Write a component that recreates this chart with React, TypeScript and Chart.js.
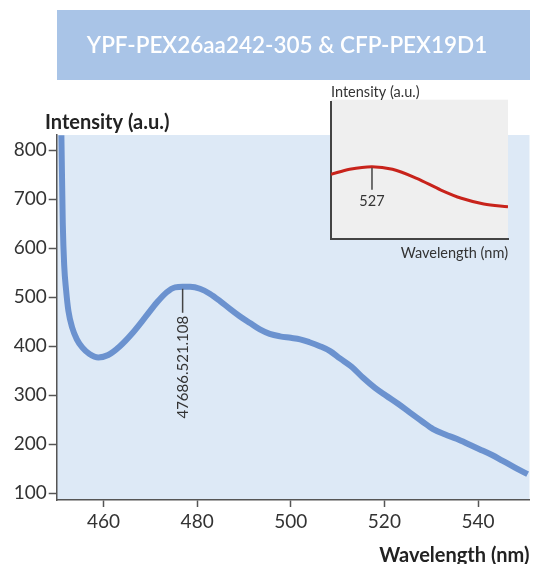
import React, { useEffect, useRef } from "react";
import { Chart, registerables } from "chart.js";

Chart.register(...registerables);

const titleText = "YPF-PEX26aa242-305 & CFP-PEX19D1";
const yAxisTitle = "Intensity (a.u.)";
const xAxisTitle = "Wavelength (nm)";

const wavelength = [
  451.0, 451.3, 451.6, 452.0, 452.5, 453.3, 454.3, 455.5, 457.0, 458.9,
  461.0, 463.5, 466.3, 469.0, 471.4, 473.5, 475.3, 476.9, 478.5, 480.6,
  482.7, 484.9, 487.0, 489.1, 491.3, 493.4, 495.5, 497.7, 500.0, 502.0,
  504.0, 506.2, 508.4, 510.5, 513.0, 515.4, 518.0, 520.4, 523.0, 525.4,
  528.0, 530.4, 533.0, 535.4, 538.0, 540.3, 543.0, 545.3, 548.0, 550.6,
];
const intensity = [
  830, 650, 565, 515, 472, 438, 414, 397, 384, 377,
  382, 400, 428, 460, 489, 510, 520, 521.1, 521, 517,
  507, 492, 476, 461, 447, 434, 425, 420, 417, 414,
  408, 400, 390, 375, 358, 336, 315, 299, 282, 265,
  247, 231, 220, 211, 200, 190, 178, 166, 152, 139,
];
const xTicks = [460, 480, 500, 520, 540];
const yTicks = [100, 200, 300, 400, 500, 600, 700, 800];

const peakWavelength = 476.9;
const peakIntensity = 521.1;
const peakLabel = "47686.521.108";

const insetWavelength = [505, 515, 527, 538, 551, 564, 575, 587, 600];
const insetIntensity = [47.2, 50.9, 52.8, 50.9, 44.3, 35.8, 29.8, 25.7, 23.7];
const insetPeakWavelength = 527;
const insetPeakLabel = "527";

const FONT = "Lato, 'Open Sans', sans-serif";

export default function App() {
  const mainRef = useRef<HTMLCanvasElement | null>(null);
  const insetRef = useRef<HTMLCanvasElement | null>(null);

  useEffect(() => {
    if (!mainRef.current || !insetRef.current) return;

    const decor = {
      id: "decor",
      beforeDraw(chart: any) {
        const { ctx, chartArea } = chart;
        ctx.save();
        ctx.fillStyle = "#a9c4e7";
        ctx.fillRect(57, 10, 473, 70);
        ctx.fillStyle = "#dde9f6";
        ctx.fillRect(chartArea.left, chartArea.top, chartArea.right - chartArea.left, chartArea.bottom - chartArea.top);
        ctx.fillStyle = "#ffffff";
        ctx.font = `600 22.5px ${FONT}`;
        ctx.textAlign = "center";
        ctx.textBaseline = "middle";
        ctx.fillText(titleText, 287, 46);
        ctx.fillStyle = "#222222";
        ctx.font = `bold 20px ${FONT}`;
        ctx.textAlign = "left";
        ctx.fillText(yAxisTitle, 45, 123);
        ctx.restore();
      },
      afterDatasetsDraw(chart: any) {
        const { ctx, scales } = chart;
        const x = scales.x.getPixelForValue(peakWavelength);
        const y0 = scales.y.getPixelForValue(peakIntensity);
        ctx.save();
        ctx.strokeStyle = "#444444";
        ctx.lineWidth = 1.5;
        ctx.beginPath();
        ctx.moveTo(x, y0 + 2);
        ctx.lineTo(x, y0 + 26);
        ctx.stroke();
        ctx.translate(x + 1, y0 + 29);
        ctx.rotate(-Math.PI / 2);
        ctx.fillStyle = "#333333";
        ctx.font = `15px ${FONT}`;
        ctx.textAlign = "right";
        ctx.textBaseline = "middle";
        ctx.fillText(peakLabel, 0, 0);
        ctx.restore();
      },
    };

    const main = new Chart(mainRef.current, {
      type: "line",
      data: {
        datasets: [
          {
            data: wavelength.map((w, i) => ({ x: w, y: intensity[i] })),
            borderColor: "#6b92cf",
            borderWidth: 6,
            pointRadius: 0,
            cubicInterpolationMode: "monotone",
            fill: false,
          },
        ],
      },
      options: {
        animation: false,
        responsive: false,
        layout: { padding: { left: 0, right: 4.5, top: 135, bottom: 0 } },
        plugins: { legend: { display: false }, tooltip: { enabled: false }, title: { display: false } },
        scales: {
          x: {
            type: "linear",
            min: 450,
            max: 551,
            afterBuildTicks: (s: any) => {
              s.ticks = xTicks.map((v) => ({ value: v }));
            },
            afterFit: (s: any) => {
              s.height = 64;
            },
            grid: { drawOnChartArea: false, drawTicks: true, tickLength: 7, tickColor: "#555555", tickWidth: 1.5 },
            border: { color: "#555555", width: 1.5 },
            ticks: { color: "#333333", font: { family: FONT, size: 19 }, padding: 3, maxRotation: 0 },
            title: {
              display: true,
              text: xAxisTitle,
              align: "end",
              color: "#222222",
              font: { family: FONT, size: 20, weight: "bold", lineHeight: 0.85 },
              padding: { top: 0, bottom: 0 },
            },
          },
          y: {
            type: "linear",
            min: 86.3,
            max: 830.6,
            afterBuildTicks: (s: any) => {
              s.ticks = yTicks.map((v) => ({ value: v }));
            },
            afterFit: (s: any) => {
              s.width = 56.7;
            },
            grid: { drawOnChartArea: false, drawTicks: true, tickLength: 8, tickColor: "#555555", tickWidth: 1.5 },
            border: { color: "#555555", width: 1.5 },
            ticks: { color: "#333333", font: { family: FONT, size: 19 }, padding: 2 },
          },
        },
      },
      plugins: [decor],
    } as any);

    const insetDecor = {
      id: "insetDecor",
      beforeDraw(chart: any) {
        const { ctx, chartArea } = chart;
        ctx.save();
        ctx.fillStyle = "#efefef";
        ctx.fillRect(chartArea.left, chartArea.top - 2, chartArea.right - chartArea.left, chartArea.bottom - chartArea.top + 2);
        ctx.fillStyle = "#333333";
        ctx.font = `14.5px ${FONT}`;
        ctx.textAlign = "left";
        ctx.textBaseline = "middle";
        ctx.fillText(yAxisTitle, 11, 12.5);
        ctx.restore();
      },
      afterDatasetsDraw(chart: any) {
        const { ctx, scales } = chart;
        const x = scales.x.getPixelForValue(insetPeakWavelength);
        const y0 = scales.y.getPixelForValue(insetIntensity[2]);
        ctx.save();
        ctx.strokeStyle = "#444444";
        ctx.lineWidth = 1.5;
        ctx.beginPath();
        ctx.moveTo(x, y0 + 1);
        ctx.lineTo(x, y0 + 23);
        ctx.stroke();
        ctx.fillStyle = "#333333";
        ctx.font = `14.5px ${FONT}`;
        ctx.textAlign = "center";
        ctx.textBaseline = "middle";
        ctx.fillText(insetPeakLabel, x, y0 + 35);
        ctx.restore();
      },
    };

    const inset = new Chart(insetRef.current, {
      type: "line",
      data: {
        datasets: [
          {
            data: insetWavelength.map((w, i) => ({ x: w, y: insetIntensity[i] })),
            borderColor: "#c8231b",
            borderWidth: 3,
            pointRadius: 0,
            cubicInterpolationMode: "monotone",
            fill: false,
          },
        ],
      },
      options: {
        animation: false,
        responsive: false,
        layout: { padding: { left: 0, right: 12, top: 21.7, bottom: 0 } },
        plugins: { legend: { display: false }, tooltip: { enabled: false } },
        scales: {
          x: {
            type: "linear",
            min: 505,
            max: 600,
            afterFit: (s: any) => {
              s.height = 25.7;
            },
            grid: { display: false },
            border: { color: "#444444", width: 2 },
            ticks: { display: false },
            title: {
              display: true,
              text: xAxisTitle,
              align: "end",
              color: "#333333",
              font: { family: FONT, size: 14.5, lineHeight: 1 },
              padding: { top: 0, bottom: 4 },
            },
          },
          y: {
            type: "linear",
            min: 0,
            max: 100,
            afterFit: (s: any) => {
              s.width = 11;
            },
            grid: { display: false },
            border: { color: "#444444", width: 2 },
            ticks: { display: false },
          },
        },
      },
      plugins: [insetDecor],
    } as any);

    return () => {
      main.destroy();
      inset.destroy();
    };
  }, []);

  return (
    <div style={{ position: "absolute", left: 0, top: 0, width: 534, height: 564, background: "#ffffff" }}>
      <canvas ref={mainRef} width={534} height={564} style={{ position: "absolute", left: 0, top: 0, display: "block" }} />
      <canvas ref={insetRef} width={200} height={185} style={{ position: "absolute", left: 320, top: 80, display: "block" }} />
    </div>
  );
}
